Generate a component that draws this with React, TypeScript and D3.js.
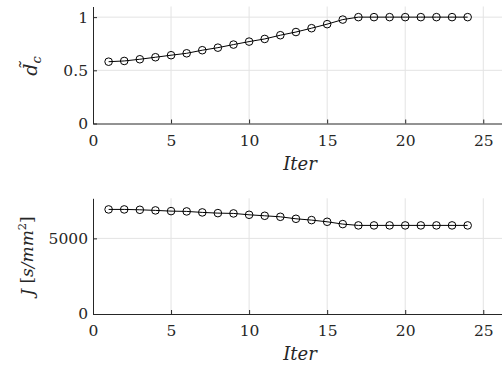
import { select, scaleLinear, axisBottom, axisLeft, line } from 'd3';
import { useEffect, useRef } from 'react';

const iters = [1, 2, 3, 4, 5, 6, 7, 8, 9, 10, 11, 12, 13, 14, 15, 16, 17, 18, 19, 20, 21, 22, 23, 24];
const dcValues = [0.581, 0.588, 0.604, 0.623, 0.642, 0.66, 0.689, 0.713, 0.742, 0.77, 0.795, 0.83, 0.86, 0.896, 0.934, 0.977, 1.0, 1.0, 1.0, 1.0, 1.0, 1.0, 1.0, 1.0];
const jValues = [6915, 6915, 6890, 6850, 6803, 6783, 6717, 6670, 6650, 6560, 6494, 6427, 6295, 6209, 6097, 5944, 5858, 5858, 5858, 5858, 5858, 5858, 5858, 5858];
const xTicks = [0, 5, 10, 15, 20, 25];
const dcTicks = [0, 0.5, 1];
const jTicks = [0, 5000];

const W = 502;
const H = 366;
const FONT = "'DejaVu Serif', serif";

function App() {
  const svgRef = useRef<SVGSVGElement>(null);

  useEffect(() => {
    if (svgRef.current == null) return;
    const svg = select(svgRef.current);
    svg.selectAll('*').remove();

    const x = scaleLinear().domain([0, 26.2]).range([93, 502]);

    const panel = (vals: number[], yDomain: [number, number], yRange: [number, number], ticks: number[], fmt: (d: number) => string) => {
      const y = scaleLinear().domain(yDomain).range(yRange);
      const g = svg.append('g');

      // grid
      g.selectAll('.gx').data(xTicks.filter(t => t > 0)).enter().append('line')
        .attr('x1', d => x(d)).attr('x2', d => x(d))
        .attr('y1', yRange[0]).attr('y2', yRange[1])
        .attr('stroke', '#e3e3e3').attr('stroke-width', 1);
      g.selectAll('.gy').data(ticks.filter(t => t > yDomain[0])).enter().append('line')
        .attr('x1', x(0)).attr('x2', W)
        .attr('y1', d => y(d)).attr('y2', d => y(d))
        .attr('stroke', '#e3e3e3').attr('stroke-width', 1);

      const ax = g.append('g')
        .attr('transform', `translate(0,${yRange[0]})`)
        .call(axisBottom(x).tickValues(xTicks).tickSize(-4).tickPadding(11).tickSizeOuter(0));
      const ay = g.append('g')
        .attr('transform', `translate(${x(0)},0)`)
        .call(axisLeft(y).tickValues(ticks).tickFormat(d => fmt(d as number)).tickSize(-4).tickPadding(5).tickSizeOuter(0));
      [ax, ay].forEach(a => {
        a.attr('font-family', FONT).attr('font-size', 15.5);
        a.select('.domain').attr('stroke', '#262626');
        a.selectAll('.tick line').attr('stroke', '#262626');
        a.selectAll('.tick text').attr('fill', '#262626');
      });

      const pts = iters.map((it, i) => [x(it), y(vals[i])] as [number, number]);
      g.append('path')
        .datum(pts)
        .attr('fill', 'none')
        .attr('stroke', '#000')
        .attr('stroke-width', 1)
        .attr('d', line());
      g.selectAll('circle').data(pts).enter().append('circle')
        .attr('cx', d => d[0]).attr('cy', d => d[1]).attr('r', 3.8)
        .attr('fill', 'none').attr('stroke', '#000').attr('stroke-width', 1);

      g.append('text')
        .attr('x', 300).attr('y', yRange[0] + 46)
        .attr('text-anchor', 'middle')
        .attr('font-family', FONT).attr('font-size', 18).attr('font-style', 'italic')
        .attr('fill', '#262626')
        .text('Iter');
      return g;
    };

    panel(dcValues, [0, 1.1], [123.5, 6.5], dcTicks, d => String(d));
    panel(jValues, [0, 7650], [314, 198.3], jTicks, d => String(d));

    // y labels
    const l1 = svg.append('text')
      .attr('transform', 'translate(37,66) rotate(-90)')
      .attr('text-anchor', 'middle')
      .attr('font-family', FONT).attr('font-size', 19).attr('fill', '#262626');
    l1.append('tspan').attr('font-style', 'italic').text('d\u0303');
    l1.append('tspan').attr('font-style', 'italic').attr('font-size', 13).attr('dy', 4).text('c');

    const l2 = svg.append('text')
      .attr('transform', 'translate(33,256) rotate(-90)')
      .attr('text-anchor', 'middle')
      .attr('font-family', FONT).attr('font-size', 17).attr('fill', '#262626');
    l2.append('tspan').attr('font-style', 'italic').text('J');
    l2.append('tspan').text(' [');
    l2.append('tspan').attr('font-style', 'italic').text('s/mm');
    l2.append('tspan').attr('font-size', 11.5).attr('dy', -7).text('2');
    l2.append('tspan').attr('dy', 7).text(']');
  }, []);

  return (
    <svg ref={svgRef} width={W} height={H}
      style={{ position: 'absolute', left: 0, top: 0, background: '#fff' }} />
  );
}

export default App;
